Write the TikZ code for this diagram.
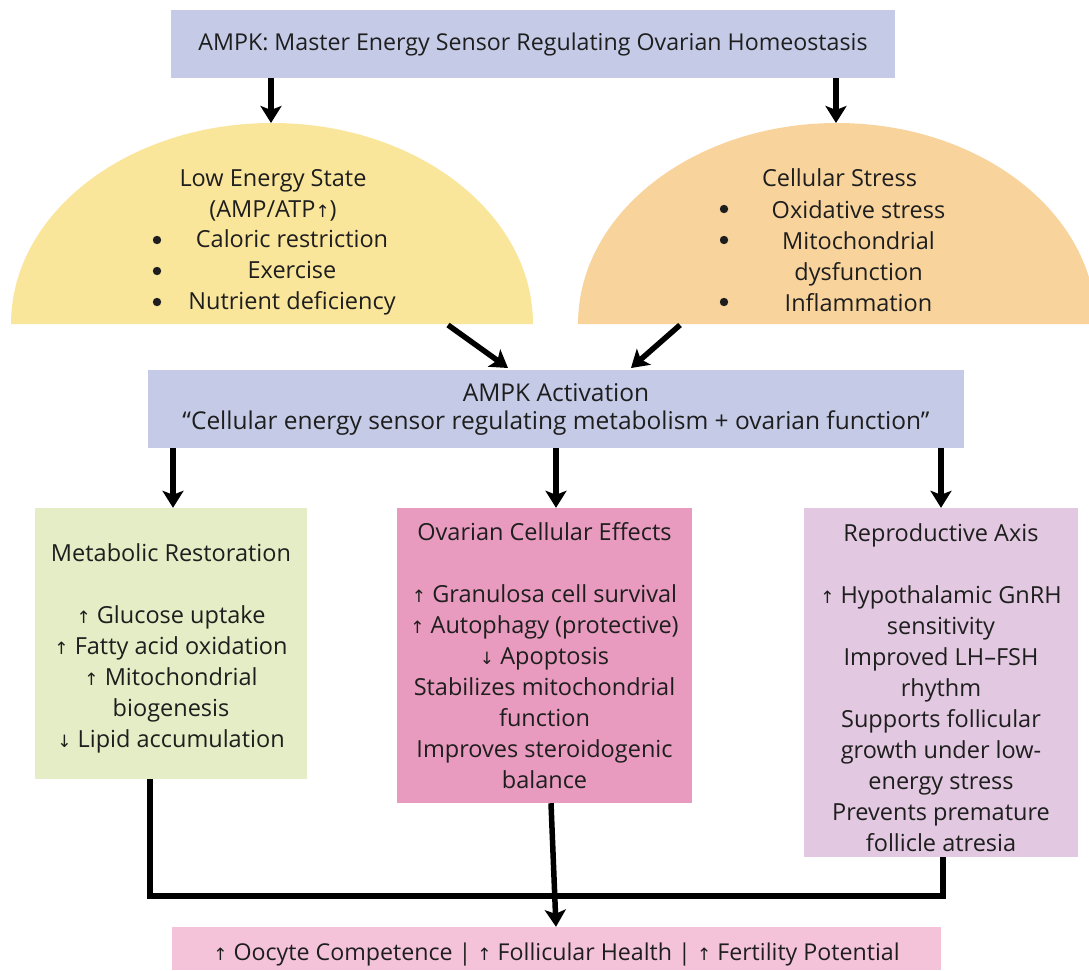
\documentclass[tikz,border=0pt]{standalone}
\usepackage{fontspec}
\setmainfont{Open Sans}
\newfontfamily\arrowfont{DejaVu Sans}
\newcommand{\uparr}{{\arrowfont\fontsize{17}{17}\selectfont ↑}}
\newcommand{\dnarr}{{\arrowfont\fontsize{17}{17}\selectfont ↓}}
\usetikzlibrary{arrows.meta}
\definecolor{lavender}{HTML}{C5CBE7}
\definecolor{sunyellow}{HTML}{FAE69B}
\definecolor{peach}{HTML}{F8D49C}
\definecolor{sage}{HTML}{E4EDC5}
\definecolor{rosepink}{HTML}{E89BBE}
\definecolor{lilac}{HTML}{E2C8E0}
\definecolor{blush}{HTML}{F4C3DA}
\definecolor{ink}{HTML}{1E1E1E}
\begin{document}
\begin{tikzpicture}[x=1pt,y=-1pt,
  txt/.style={font=\fontsize{23.5}{31}\selectfont, align=center, text=ink, inner sep=0pt},
  panel/.style={txt, rectangle, draw=none},
  conn/.style={line width=5.5pt, draw=black},
  arr/.style={conn, -{Stealth[length=17pt,width=21pt,inset=4pt]}},
  bullet/.style={fill=ink},
]
\useasboundingbox (0,0) rectangle (1089,970);

% header
\node[panel, fill=lavender, minimum width=724pt, minimum height=68pt,
      font=\fontsize{23.2}{28}\selectfont] (top) at (533,44)
  {AMPK: Master Energy Sensor Regulating Ovarian Homeostasis};

% two triggers drawn as half ellipses
\fill[sunyellow] (11,324) arc[start angle=180, end angle=0, x radius=261pt, y radius=201pt] -- cycle;
\begin{scope}
  \clip (0,0) rectangle (1089,970);
  \fill[peach] (578,324) arc[start angle=180, end angle=0, x radius=259pt, y radius=201pt] -- cycle;
\end{scope}
\coordinate (lowtop) at (271,123);
\coordinate (stresstop) at (836,123);

\node[txt] (lowhead) at (273,195) {Low Energy State\\(AMP/ATP\uparr)};
\node[txt] (lowlist) at (292,272) {Caloric restriction\\Exercise\\Nutrient deficiency};
\foreach \yy in {240,271,302} \fill[bullet] (157,\yy) circle (4.2pt);

\node[txt] (stresshead) at (839.5,178) {Cellular Stress};
\node[txt] (stresslist) at (858.5,256.5) {Oxidative stress\\Mitochondrial\\dysfunction\\Inflammation};
\foreach \yy in {209,240,302} \fill[bullet] (724,\yy) circle (4.2pt);

% activation
\node[panel, fill=lavender, minimum width=816pt, minimum height=78pt,
      font=\fontsize{24.5}{28}\selectfont] (act) at (556,409)
  {AMPK Activation\\“Cellular energy sensor regulating metabolism + ovarian function”};

% three outcome panels
\node[panel, fill=sage, minimum width=272pt, minimum height=271pt] (green) at (171,643.5)
  {\rule{0pt}{28pt}Metabolic Restoration\\ \\\uparr\ Glucose uptake\\\uparr\ Fatty acid oxidation\\\uparr\ Mitochondrial\\biogenesis\\\dnarr\ Lipid accumulation};
\node[panel, fill=rosepink, minimum width=295pt, minimum height=295pt] (pink) at (544.5,655.5)
  {Ovarian Cellular Effects\\ \\\uparr\ Granulosa cell survival\\\uparr\ Autophagy (protective)\\\dnarr\ Apoptosis\\Stabilizes mitochondrial\\function\\Improves steroidogenic\\balance};
\node[panel, fill=lilac, minimum width=274pt, minimum height=349pt] (lilacbox) at (941,682.5)
  {\rule{0pt}{28pt}Reproductive Axis\\ \\\uparr\ Hypothalamic GnRH\\sensitivity\\Improved LH–FSH\\rhythm\\Supports follicular\\growth under low-\\energy stress\\Prevents premature\\follicle atresia};

% result
\node[panel, fill=blush, minimum width=769pt, minimum height=43pt,
      text height=24.4pt, text depth=0pt,
      font=\fontsize{23.2}{28}\selectfont] (result) at (556.5,948.5)
  {\uparr\ Oocyte Competence | \uparr\ Follicular Health | \uparr\ Fertility Potential};

% connectors
\coordinate (lowout) at (448,325);
\coordinate (stressout) at (680,325);
\coordinate (actinL) at (508,368);
\coordinate (actinR) at (631,368);

\draw[arr] (top.south -| 271,0) -- (lowtop);
\draw[arr] (top.south -| 836,0) -- (stresstop);
\draw[arr] (lowout) -- (actinL);
\draw[arr] (stressout) -- (actinR);
\draw[arr] (act.south -| 173,0) -- (green.north -| 173,0);
\draw[arr] (act.south -| 556,0) -- (pink.north -| 556,0);
\draw[arr] (act.south -| 941,0) -- (lilacbox.north -| 941,0);
\draw[conn] (green.south -| 150,0) -- (150,896) -- (943,896) -- (lilacbox.south -| 943,0);
\draw[arr] (pink.south -| 551,0) -- (result.north -| 556,0);
\end{tikzpicture}
\end{document}
